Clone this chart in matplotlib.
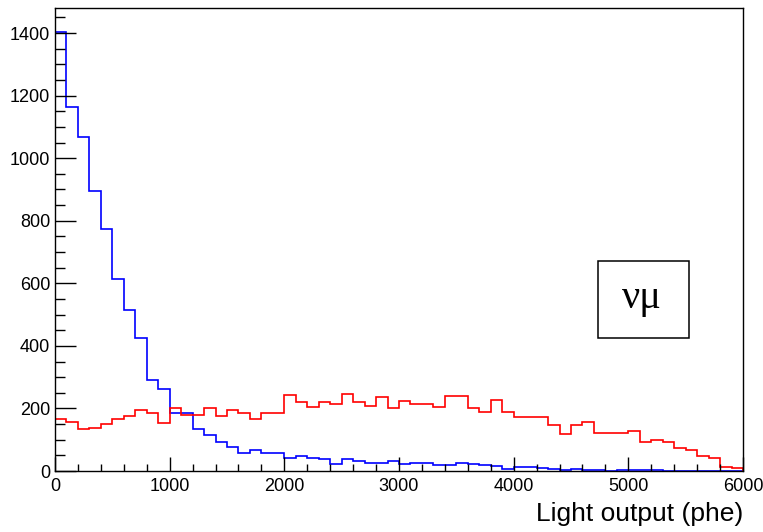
import numpy as np
import matplotlib
matplotlib.use("Agg")
import matplotlib.pyplot as plt
from matplotlib.patches import Rectangle
from matplotlib.ticker import MultipleLocator

# ── Histogram contents (60 bins of 100 phe, 0-6000) ──
bin_edges = np.arange(0, 6001, 100)

blue_counts = [1404, 1162, 1068, 895, 773, 614, 514, 424, 291, 262,
               184, 184, 133, 115, 94, 77, 58, 67, 59, 59,
               42, 47, 42, 39, 23, 39, 31, 27, 27, 31,
               23, 27, 27, 20, 20, 27, 23, 20, 16, 7,
               12, 12, 10, 7, 2, 7, 3, 3, 0, 3,
               3, 3, 3, 0, 0, 0, 0, 0, 0, 0]

red_counts = [165, 157, 133, 138, 149, 165, 177, 196, 186, 154,
              201, 180, 180, 201, 175, 196, 185, 165, 186, 184,
              244, 219, 204, 220, 215, 246, 220, 209, 236, 200,
              224, 213, 213, 204, 240, 240, 201, 189, 227, 188,
              173, 173, 173, 146, 118, 146, 157, 123, 123, 123,
              127, 94, 99, 94, 74, 67, 48, 42, 14, 10]

label_text = "νμ"
x_title = "Light output (phe)"

plt.rcParams["font.family"] = ["Liberation Sans", "DejaVu Sans"]

fig = plt.figure(figsize=(7.63, 5.32), dpi=100)
ax = fig.add_axes([55 / 763, 61 / 532, 688 / 763, 463 / 532])

ax.stairs(blue_counts, bin_edges, color="#0000ff", linewidth=1.2, baseline=0)
ax.stairs(red_counts, bin_edges, color="#ff0000", linewidth=1.2, baseline=0)

ax.set_xlim(0, 6000)
ax.set_ylim(0, 1480)

ax.xaxis.set_major_locator(MultipleLocator(1000))
ax.xaxis.set_minor_locator(MultipleLocator(200))
ax.yaxis.set_major_locator(MultipleLocator(200))
ax.yaxis.set_minor_locator(MultipleLocator(50))

ax.tick_params(axis="x", which="major", direction="in", length=10, width=1, labelsize=13, pad=5)
ax.tick_params(axis="x", which="minor", direction="in", length=5, width=1)
ax.tick_params(axis="y", which="major", direction="in", length=14.8, width=1, labelsize=13, pad=3.5)
ax.tick_params(axis="y", which="minor", direction="in", length=7.4, width=1)
for s in ax.spines.values():
    s.set_linewidth(1)

ax.set_xlabel(x_title, fontsize=19, loc="right")
ax.xaxis.set_label_coords(1.0, -0.068)

# ── label box ──
ax.add_patch(Rectangle((0.789, 0.287), 0.1325, 0.1666, transform=ax.transAxes,
                       facecolor="white", edgecolor="black", linewidth=1.1, zorder=3))
ax.text(0.8525, 0.352, label_text, transform=ax.transAxes, ha="center", va="baseline",
        fontsize=29, family=["Liberation Serif", "DejaVu Serif"], zorder=4)

fig.savefig("out.png", dpi=100)
